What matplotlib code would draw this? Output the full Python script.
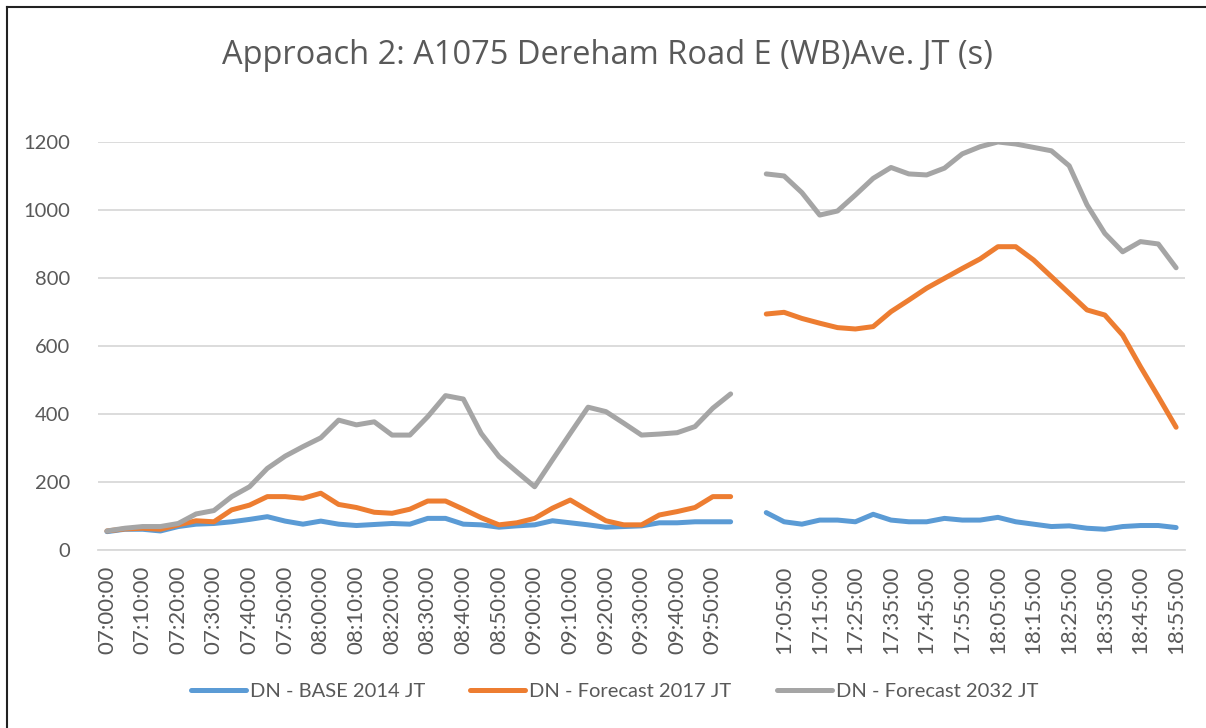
import numpy as np
import matplotlib
matplotlib.use("Agg")
import matplotlib.pyplot as plt
from matplotlib.lines import Line2D

# categories: AM peak, one empty slot, PM peak
times = [
    "07:00:00", "07:05:00", "07:10:00", "07:15:00", "07:20:00", "07:25:00",
    "07:30:00", "07:35:00", "07:40:00", "07:45:00", "07:50:00", "07:55:00",
    "08:00:00", "08:05:00", "08:10:00", "08:15:00", "08:20:00", "08:25:00",
    "08:30:00", "08:35:00", "08:40:00", "08:45:00", "08:50:00", "08:55:00",
    "09:00:00", "09:05:00", "09:10:00", "09:15:00", "09:20:00", "09:25:00",
    "09:30:00", "09:35:00", "09:40:00", "09:45:00", "09:50:00", "09:55:00",
    "",
    "17:00:00", "17:05:00", "17:10:00", "17:15:00", "17:20:00", "17:25:00",
    "17:30:00", "17:35:00", "17:40:00", "17:45:00", "17:50:00", "17:55:00",
    "18:00:00", "18:05:00", "18:10:00", "18:15:00", "18:20:00", "18:25:00",
    "18:30:00", "18:35:00", "18:40:00", "18:45:00", "18:50:00", "18:55:00",
]

nan = np.nan
base_2014 = [
    54, 61, 61, 56, 69, 76, 78, 83, 90, 98, 85, 76, 85, 76, 72, 75, 78, 76,
    93, 93, 76, 74, 67, 71, 74, 86, 80, 74, 67, 69, 71, 80, 80, 83, 83, 83,
    nan,
    110, 83, 76, 88, 88, 83, 105, 88, 83, 83, 93, 88, 88, 96, 83, 76, 69, 71,
    64, 61, 69, 72, 72, 66,
]
fc_2017 = [
    56, 62, 64, 61, 74, 86, 83, 118, 132, 157, 157, 152, 167, 134, 125, 111, 108, 120,
    144, 144, 120, 95, 74, 80, 93, 123, 147, 116, 86, 74, 74, 103, 113, 125, 157, 157,
    nan,
    694, 699, 681, 667, 654, 650, 657, 701, 735, 770, 799, 828, 856, 892, 892, 853,
    804, 755, 706, 691, 632, 539, 451, 361,
]
fc_2032 = [
    56, 64, 69, 69, 78, 106, 116, 157, 186, 240, 276, 304, 330, 382, 368, 377, 338, 338,
    392, 454, 444, 343, 275, 230, 186, 265, 343, 420, 407, 373, 338, 341, 345, 363, 417, 459,
    nan,
    1106, 1100, 1051, 985, 997, 1044, 1093, 1125, 1106, 1103, 1123, 1165, 1186, 1200,
    1194, 1184, 1174, 1130, 1015, 931, 877, 907, 900, 830,
]

series = ["DN - BASE 2014 JT", "DN - Forecast 2017 JT", "DN - Forecast 2032 JT"]
colors = ["#5B9BD5", "#ED7D31", "#A5A5A5"]

font = "Lato"
txt = "#595959"

fig = plt.figure(figsize=(12.06, 7.28), dpi=100)
ax = fig.add_axes([0.0813, 0.2445, 0.9013, 0.5605])

x = np.arange(len(times))
for vals, c, name in zip([base_2014, fc_2017, fc_2032], colors, series):
    ax.plot(x, vals, color=c, lw=3.6, solid_capstyle="round",
            solid_joinstyle="round", label=name)

ax.set_xlim(-0.5, len(times) - 0.5)
ax.set_ylim(0, 1200)
ax.set_yticks(range(0, 1201, 200))
ax.grid(axis="y", color="#D9D9D9", lw=1.3)
ax.set_axisbelow(True)
for s in ["top", "right", "left"]:
    ax.spines[s].set_visible(False)
ax.spines["bottom"].set_color("#D9D9D9")
ax.spines["bottom"].set_linewidth(1.3)

ax.set_xticks(x[::2])
ax.set_xticklabels(times[::2], rotation=90, fontsize=16, color=txt, family=font)
ax.tick_params(axis="x", length=0, pad=11)
ax.tick_params(axis="y", length=0, pad=20, labelsize=14.5, labelcolor=txt)
for t in ax.get_yticklabels():
    t.set_family(font)

fig.text(0.504, 0.924, "Approach 2: A1075 Dereham Road E (WB)Ave. JT (s)",
         ha="center", va="center", fontsize=23.5, color=txt, family="Open Sans")

handles = [Line2D([0], [0], color=c, lw=3.6, solid_capstyle="round") for c in colors]
fig.legend(handles, series, loc="center", bbox_to_anchor=(0.5095, 0.05), ncol=3,
           frameon=False, prop={"family": font, "size": 14.5}, labelcolor=txt,
           handlelength=2.74, handletextpad=0.2, columnspacing=2.24)

# chart border (top and left edges visible in the original)
fig.add_artist(Line2D([0.006, 1.0], [0.99, 0.99], color="#222222", lw=1.5))
fig.add_artist(Line2D([0.006, 0.006], [0.0, 0.99], color="#222222", lw=1.5))

fig.savefig("out.png", dpi=100)
